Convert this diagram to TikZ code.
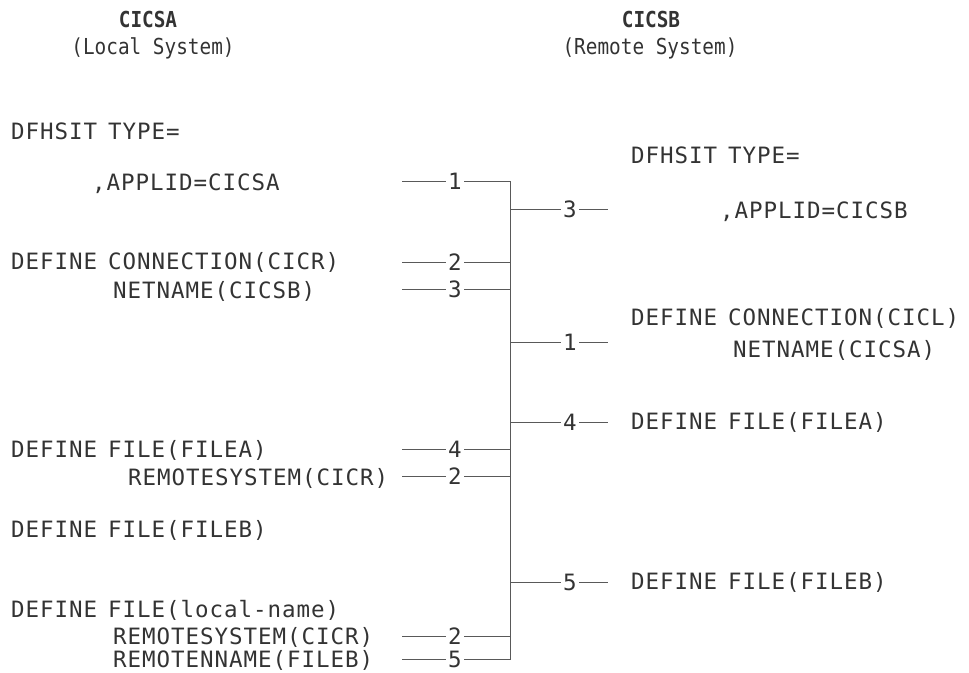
\documentclass[tikz,border=0pt]{standalone}
\usepackage{fontspec}
\newfontfamily\codefont[LetterSpace=4.2]{DejaVu Sans Mono}
\newfontfamily\digitfont{DejaVu Sans Mono}
\newfontfamily\titlefont[FakeStretch=0.88]{DejaVu Sans Mono}
\newcommand\codesetup{\codefont\fontsize{22.5}{24}\selectfont\spaceskip 11pt\relax}
\definecolor{txt}{gray}{0.2}
\definecolor{ln}{gray}{0.35}
\begin{document}
\begin{tikzpicture}[x=1pt,y=1pt,
  code/.style={anchor=base west,inner sep=0pt,text=txt,
    font={\codesetup}},
  num/.style={anchor=center,inner ysep=0pt,inner xsep=2.3pt,text=txt,
    font={\digitfont\fontsize{22.5}{24}\selectfont}},
  ttl/.style={anchor=base,inner sep=0pt,text=txt,
    font={\titlefont\fontsize{22}{24}\selectfont}},
  ttlb/.style={ttl,font={\titlefont\bfseries\fontsize{22}{24}\selectfont}},
  conn/.style={draw=ln,line width=1pt}]
\useasboundingbox (0,0) rectangle (969,-672);

% titles
\node[ttlb] (ta) at (148,-27) {CICSA};
\node[ttl] (tas) at (153,-54) {(Local System)};
\node[ttlb] (tb) at (651,-27) {CICSB};
\node[ttl] (tbs) at (650,-54) {(Remote System)};

% left column
\node[code] (a1) at (11,-139) {DFHSIT TYPE=};
\node[code] (a2) at (92,-190) {,APPLID=CICSA};
\node[code] (a3) at (11,-269.5) {DEFINE CONNECTION(CICR)};
\node[code] (a4) at (113,-298) {NETNAME(CICSB)};
\node[code] (a5) at (11,-457) {DEFINE FILE(FILEA)};
\node[code] (a6) at (128,-485) {REMOTESYSTEM(CICR)};
\node[code] (a7) at (11,-537) {DEFINE FILE(FILEB)};
\node[code] (a8) at (11,-617) {DEFINE FILE(local-name)};
\node[code] (a9) at (113,-644) {REMOTESYSTEM(CICR)};
\node[code] (a10) at (113,-667) {REMOTENNAME(FILEB)};

% right column
\node[code] (b1) at (631,-163) {DFHSIT TYPE=};
\node[code] (b2) at (720,-218) {,APPLID=CICSB};
\node[code] (b3) at (631,-325) {DEFINE CONNECTION(CICL)};
\node[code] (b4) at (733,-357.5) {NETNAME(CICSA)};
\node[code] (b5) at (631,-429) {DEFINE FILE(FILEA)};
\node[code] (b6) at (631,-589) {DEFINE FILE(FILEB)};

% connector geometry
\coordinate (lx) at (402,0);
\coordinate (rx) at (608,0);
\coordinate (vtop) at (510,-181);
\coordinate (vbot) at (510,-659);

% left numbers
\node[num] (l1) at (455,-181) {1};
\node[num] (l2) at (455,-262) {2};
\node[num] (l3) at (455,-289) {3};
\node[num] (l4) at (455,-449) {4};
\node[num] (l5) at (455,-476) {2};
\node[num] (l6) at (455,-636) {2};
\node[num] (l7) at (455,-659) {5};

% right numbers
\node[num] (r1) at (570,-209) {3};
\node[num] (r2) at (570,-342) {1};
\node[num] (r3) at (570,-422) {4};
\node[num] (r4) at (570,-582) {5};

% main bracket
\draw[conn] (l1.east) -- (vtop) -- (vbot) -- (l7.east);

% left branches
\foreach \n in {1,...,7}{
  \draw[conn] (l\n.west -| lx) -- (l\n.west);
}
\foreach \n in {2,...,6}{
  \draw[conn] (l\n.east) -- (l\n.east -| vtop);
}

% right branches
\foreach \n in {1,...,4}{
  \draw[conn] (r\n.west -| vtop) -- (r\n.west);
  \draw[conn] (r\n.east) -- (r\n.east -| rx);
}
\end{tikzpicture}
\end{document}
